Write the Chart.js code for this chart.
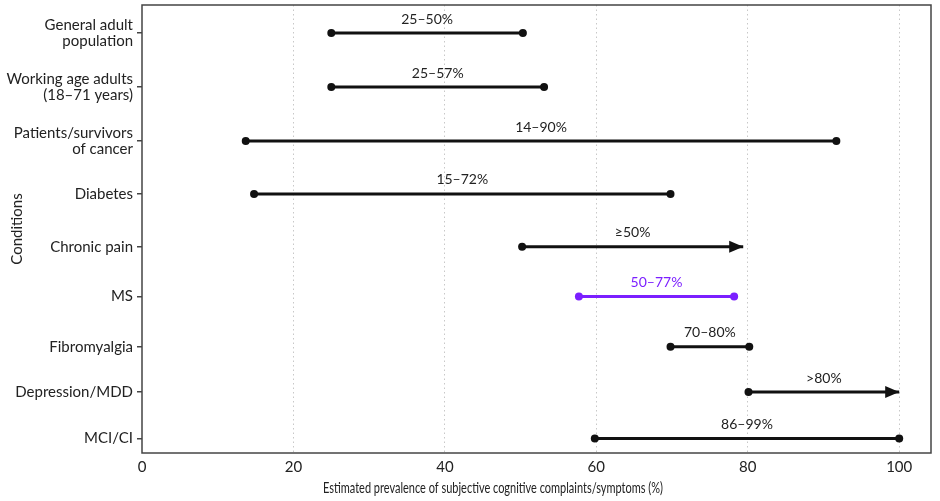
<!DOCTYPE html>
<html>
<head>
<meta charset="utf-8">
<script src="https://cdn.jsdelivr.net/npm/chart.js@4.4.1/dist/chart.umd.min.js"></script>
<style>
  body { margin: 0; background: #fff; }
  #wrap { width: 940px; height: 501px; }
</style>
</head>
<body>
<div id="wrap"><canvas id="chart"></canvas></div>
<script>
// conditions, top to bottom
const conditions = [
    ["General adult", "population"],
    ["Working age adults", "(18\u201371 years)"],
    ["Patients/survivors", "of cancer"],
    "Diabetes",
    "Chronic pain",
    "MS",
    "Fibromyalgia",
    "Depression/MDD",
    "MCI/CI"
];
// vertical position of each row (rows are not evenly spaced in the picture)
const rowPos = [0, 1, 2, 2.98, 3.96, 4.88, 5.81, 6.65, 7.51];
const lowValues = [25.0, 25.0, 13.7, 14.8, 50.2, 57.7, 69.8, 80.1, 59.8];
const highValues = [50.3, 53.1, 91.7, 69.8, 79.4, 78.2, 80.2, 100, 100];
const rangeLabels = ["25\u201350%", "25\u201357%", "14\u201390%", "15\u201372%", "\u226550%", "50\u201377%", "70\u201380%", ">80%", "86\u201399%"];
const openEnded = [false, false, false, false, true, false, false, true, false];
const highlight = [false, false, false, false, false, true, false, false, false];
const xTicks = [0, 20, 40, 60, 80, 100];

const BLACK = "#111";
const PURPLE = "#7b1fff";
const FONT = "Lato, 'Noto Sans', sans-serif";

let datasets = conditions.map((c, i) => {
    let col = highlight[i] ? PURPLE : BLACK;
    return {
        label: rangeLabels[i],
        data: [
            { x: lowValues[i], y: rowPos[i] },
            { x: highValues[i], y: rowPos[i] }
        ],
        borderColor: col,
        backgroundColor: col,
        borderWidth: 3,
        // no dot at the end when the range is open
        pointRadius: openEnded[i] ? [4, 0] : 4,
        pointBorderWidth: 0,
        showLine: true,
        arrow: openEnded[i]
    };
});

// arrow heads + range text above each line
const rangeDecor = {
    id: "rangeDecor",
    afterDatasetsDraw(chart) {
        let ctx = chart.ctx;
        chart.data.datasets.forEach((ds, i) => {
            let pts = chart.getDatasetMeta(i).data;
            let a = pts[0], b = pts[1];
            ctx.save();
            if (ds.arrow) {
                ctx.fillStyle = ds.borderColor;
                ctx.beginPath();
                ctx.moveTo(b.x, b.y);
                ctx.lineTo(b.x - 14, b.y - 6);
                ctx.lineTo(b.x - 14, b.y + 6);
                ctx.closePath();
                ctx.fill();
            }
            ctx.fillStyle = ds.borderColor === PURPLE ? PURPLE : "#222";
            ctx.font = "14px " + FONT;
            ctx.textAlign = "center";
            ctx.textBaseline = "middle";
            ctx.fillText(ds.label, (a.x + b.x) / 2, a.y - 14);
            ctx.restore();
        });
    }
};

// full box round the plot and the x axis title
const frame = {
    id: "frame",
    afterDraw(chart) {
        let ctx = chart.ctx, area = chart.chartArea;
        ctx.save();
        ctx.strokeStyle = "#444";
        ctx.lineWidth = 1.5;
        ctx.strokeRect(area.left, area.top, area.right - area.left, area.bottom - area.top);

        // the title in the picture is a narrow face, squeeze to its width
        let title = "Estimated prevalence of subjective cognitive complaints/symptoms (%)";
        ctx.fillStyle = "#222";
        ctx.font = "15px " + FONT;
        ctx.textAlign = "center";
        ctx.textBaseline = "middle";
        let w = ctx.measureText(title).width;
        ctx.translate(493, 488);
        ctx.scale(340 / w, 1);
        ctx.fillText(title, 0, 0);
        ctx.restore();
    }
};

new Chart(document.getElementById("chart"), {
    type: "scatter",
    data: { datasets: datasets },
    plugins: [rangeDecor, frame],
    options: {
        responsive: true,
        maintainAspectRatio: false,
        animation: false,
        layout: { padding: { top: 5, right: 9, left: 0, bottom: 0 } },
        plugins: {
            legend: { display: false },
            tooltip: { enabled: false }
        },
        scales: {
            x: {
                type: "linear",
                min: 0,
                max: 104.2,
                afterBuildTicks: s => { s.ticks = xTicks.map(v => ({ value: v })); },
                afterFit: s => { s.height = 48; },
                border: { display: false, dash: [1.5, 3] },
                grid: {
                    color: ctx => ctx.tick && ctx.tick.value === 0 ? "rgba(0,0,0,0)" : "#c8c8c8",
                    lineWidth: 1,
                    drawTicks: false
                },
                ticks: {
                    color: "#222",
                    font: { family: FONT, size: 15 },
                    padding: 5
                }
            },
            y: {
                type: "linear",
                reverse: true,
                min: -0.52,
                max: 7.78,
                afterBuildTicks: s => { s.ticks = rowPos.map(v => ({ value: v })); },
                afterFit: s => {
                    s.width = 142;
                    s.paddingTop = 0;
                    s.paddingBottom = 0;
                },
                border: { display: false },
                grid: {
                    drawOnChartArea: false,
                    drawTicks: true,
                    tickLength: 5,
                    color: "#444",
                    lineWidth: 1.5
                },
                ticks: {
                    color: "#222",
                    font: { family: FONT, size: 15, lineHeight: 1.1 },
                    padding: 4,
                    callback: (v, i) => conditions[i]
                },
                title: {
                    display: true,
                    text: "Conditions",
                    color: "#222",
                    font: { family: FONT, size: 15 },
                    padding: { top: 8, bottom: 0 }
                }
            }
        }
    }
});
</script>
</body>
</html>
